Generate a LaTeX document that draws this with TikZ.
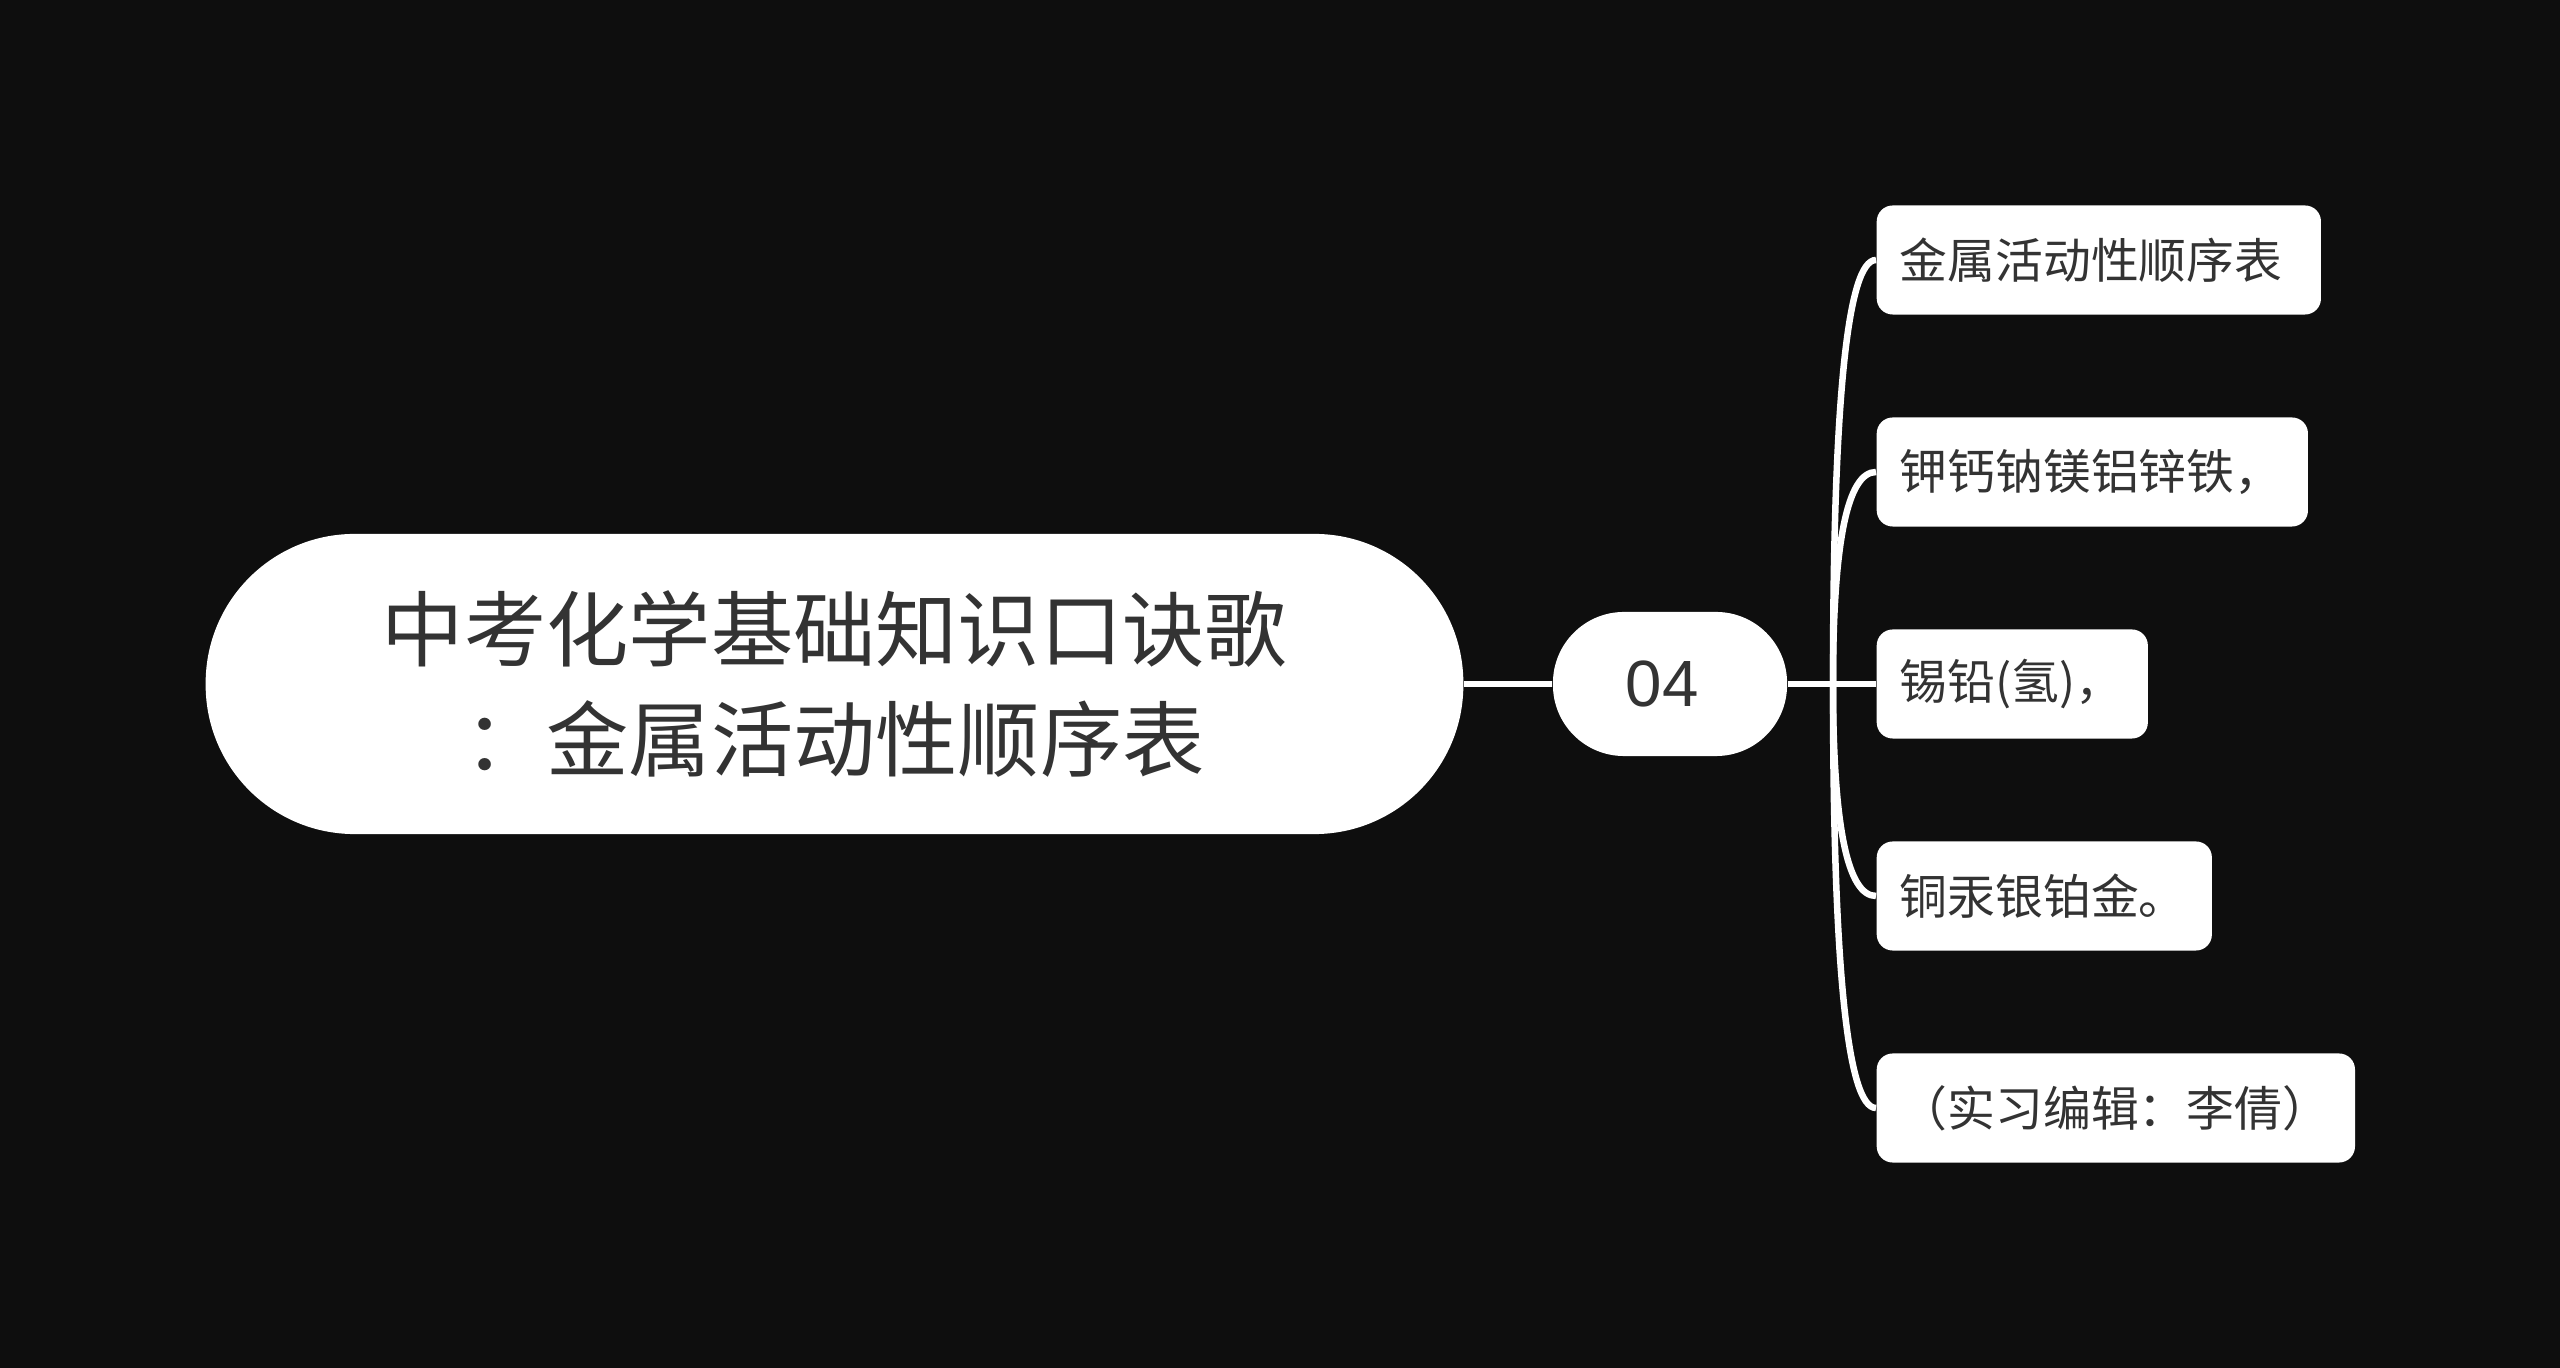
\documentclass[tikz,border=0pt]{standalone}
\usepackage{fontspec}
\setmainfont{Noto Sans CJK SC}
\newfontfamily\digitfont{Liberation Sans}
\usetikzlibrary{calc}
\definecolor{bg}{HTML}{0E0E0E}
\definecolor{ink}{HTML}{333333}
\tikzset{
  conn/.style={draw=white, line width=0.065cm},
  rootbox/.style={fill=white, rounded corners=1.49cm, minimum width=12.57cm, minimum height=3.0cm,
    inner sep=0pt, align=center, text=ink, font=\fontsize{23.4pt}{31.3pt}\selectfont},
  midbox/.style={fill=white, rounded corners=0.71cm, minimum width=2.34cm, minimum height=1.44cm,
    inner sep=0pt, text=ink, font=\digitfont\fontsize{18.6pt}{22pt}\selectfont},
  leafbox/.style={fill=white, rounded corners=0.16cm, minimum height=1.09cm, anchor=west,
    inner xsep=0.23cm, inner ysep=0pt, align=left, text=ink, font=\fontsize{13.6pt}{16pt}\selectfont},
}
\begin{document}
\begin{tikzpicture}[x=0.01cm, y=-0.01cm]
\fill[bg] (0,0) rectangle (2560,1368);
\useasboundingbox (0,0) rectangle (2560,1368);

\node[rootbox] (root) at (834.5,684) {中考化学基础知识口诀歌\\：金属活动性顺序表};
\node[midbox] (mid) at (1670,684) {\hspace*{-0.16cm}04};

\node[leafbox, text width=3.98cm] (l1) at (1876,260) {\mbox{金属活动性顺序表}};
\node[leafbox, text width=3.85cm] (l2) at (1876,472) {\mbox{钾钙钠镁铝锌铁，}};
\node[leafbox, text width=2.25cm] (l3) at (1876,684) {\mbox{锡铅(氢)，}};
\node[leafbox, text width=2.89cm] (l4) at (1876,896) {\mbox{铜汞银铂金。}};
\node[leafbox, text width=4.32cm] (l5) at (1876,1108) {\mbox{（实习编辑：李倩）}};

\coordinate (hub) at (1833,684);

\draw[conn] (root.east) -- (mid.west);
\draw[conn] (mid.east) -- (l3.west);
\foreach \n in {l1,l2,l4,l5}{
  \draw[conn] (hub) .. controls ($(hub)!0.667!(hub |- \n.west)$) and ($(\n.west)!0.667!(hub |- \n.west)$) .. (\n.west);
}
\end{tikzpicture}
\end{document}
